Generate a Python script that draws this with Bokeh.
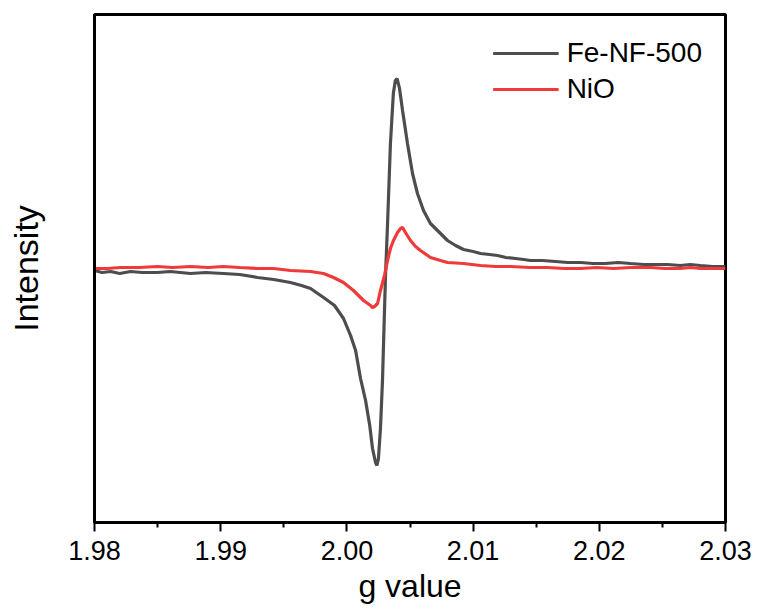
from bokeh.plotting import figure
from bokeh.models import Range1d, FixedTicker, Legend, LegendItem
from bokeh.embed import file_html
from bokeh.resources import INLINE

# Fe-NF-500 spectrum (g value, intensity in arbitrary units)
fe_g = [1.98000, 1.98060, 1.98127, 1.98200, 1.98285, 1.98380, 1.98499, 1.98600, 1.98761, 1.98880,
        1.99022, 1.99150, 1.99292, 1.99420, 1.99553, 1.99640, 1.99712, 1.99815, 1.99902, 1.99973,
        2.00029, 2.00069, 2.00108, 2.00148, 2.00181, 2.00203, 2.00227, 2.00238, 2.00250, 2.00266,
        2.00282, 2.00294, 2.00306, 2.00321, 2.00345, 2.00368, 2.00384, 2.00398, 2.00417, 2.00441,
        2.00480, 2.00520, 2.00559, 2.00607, 2.00662, 2.00742, 2.00797, 2.00861, 2.00924, 2.01000,
        2.01059, 2.01130, 2.01193, 2.01260, 2.01336, 2.01400, 2.01455, 2.01550, 2.01653, 2.01750,
        2.01851, 2.01950, 2.02049, 2.02150, 2.02247, 2.02350, 2.02445, 2.02540, 2.02643, 2.02720,
        2.02802, 2.02900, 2.03000]
fe_i = [-1, -3, -2, -4, -2, -3, -3, -2, -4, -3,
        -4, -5, -8, -10, -13, -16, -19, -28, -36, -49,
        -66, -81, -109, -131, -156, -179, -193, -196, -189, -159,
        -111, -58, -6, 42, 126, 176, 189, 191, 181, 159,
        126, 96, 76, 59, 46, 36, 29, 24, 20, 18,
        16, 15, 14, 12, 11, 10, 9, 9, 8, 7,
        7, 6, 6, 7, 6, 5, 5, 5, 4, 5,
        4, 3, 3]

# NiO spectrum
nio_g = [1.98000, 1.98100, 1.98206, 1.98350, 1.98499, 1.98620, 1.98761, 1.98900, 1.99022, 1.99150,
         1.99292, 1.99420, 1.99553, 1.99712, 1.99815, 1.99894, 1.99973, 2.00052, 2.00132, 2.00187,
         2.00203, 2.00219, 2.00243, 2.00266, 2.00298, 2.00322, 2.00345, 2.00369, 2.00401, 2.00425,
         2.00441, 2.00464, 2.00504, 2.00544, 2.00583, 2.00662, 2.00742, 2.00797, 2.00924, 2.01059,
         2.01180, 2.01296, 2.01450, 2.01590, 2.01720, 2.01851, 2.01980, 2.02113, 2.02250, 2.02406,
         2.02520, 2.02643, 2.02720, 2.02802, 2.02900, 2.03000]
nio_i = [1, 1, 2, 2, 3, 2, 3, 2, 3, 2,
         1, 1, -1, -2, -4, -8, -13, -21, -31, -36,
         -38, -37, -34, -21, -6, 9, 21, 29, 37, 41,
         42, 37, 29, 23, 19, 12, 9, 7, 6, 4,
         3, 3, 2, 2, 1, 1, 2, 1, 2, 2,
         1, 1, 2, 1, 1, 1]

x_ticks = [1.98, 1.99, 2.00, 2.01, 2.02, 2.03]
x_tick_labels = ["1.98", "1.99", "2.00", "2.01", "2.02", "2.03"]
series_names = ["Fe-NF-500", "NiO"]

FONT = "Liberation Sans"

p = figure(width=757, height=608, output_backend="svg", toolbar_location=None,
           x_range=Range1d(1.98, 2.03), y_range=Range1d(-253, 255),
           min_border_left=94, min_border_right=32, min_border_top=14, min_border_bottom=86)
p.background_fill_color = "white"
p.border_fill_color = "white"
p.grid.visible = False
p.outline_line_color = "black"
p.outline_line_width = 3
p.outline_line_alpha = 1.0

r1 = p.line(fe_g, fe_i, line_color="#4d4d4d", line_width=3.2)
r2 = p.line(nio_g, nio_i, line_color="#f03a3a", line_width=3.2)

xa = p.xaxis[0]
xa.ticker = FixedTicker(ticks=x_ticks, minor_ticks=[1.985, 1.995, 2.005, 2.015, 2.025])
xa.major_label_overrides = {t: l for t, l in zip(x_ticks, x_tick_labels)}
xa.axis_line_width = 3
xa.major_tick_line_width = 2
xa.minor_tick_line_width = 2
xa.major_tick_out = 9
xa.major_tick_in = 0
xa.minor_tick_out = 5
xa.minor_tick_in = 0
xa.major_label_text_font = FONT
xa.major_label_text_font_size = "27px"
xa.major_label_text_color = "black"
xa.major_label_standoff = 9
xa.axis_label = "g value"
xa.axis_label_text_font = FONT
xa.axis_label_text_font_size = "32px"
xa.axis_label_text_font_style = "normal"
xa.axis_label_text_color = "black"
xa.axis_label_standoff = 5

ya = p.yaxis[0]
ya.ticker = FixedTicker(ticks=[])
ya.axis_line_width = 3
ya.major_tick_line_color = None
ya.minor_tick_line_color = None
ya.axis_label = "Intensity"
ya.axis_label_text_font = FONT
ya.axis_label_text_font_size = "34px"
ya.axis_label_text_font_style = "normal"
ya.axis_label_text_color = "black"
ya.axis_label_standoff = 50

legend = Legend(items=[LegendItem(label=series_names[0], renderers=[r1]),
                       LegendItem(label=series_names[1], renderers=[r2])],
                location="top_right")
legend.border_line_color = None
legend.background_fill_alpha = 0
legend.label_text_font = FONT
legend.label_text_font_size = "28px"
legend.label_text_color = "black"
legend.glyph_width = 66
legend.label_standoff = 8
legend.padding = 0
legend.margin = 23
legend.spacing = 4
legend.label_height = 30
legend.glyph_height = 30
p.add_layout(legend)

open("out.html", "w").write(file_html(p, INLINE))
